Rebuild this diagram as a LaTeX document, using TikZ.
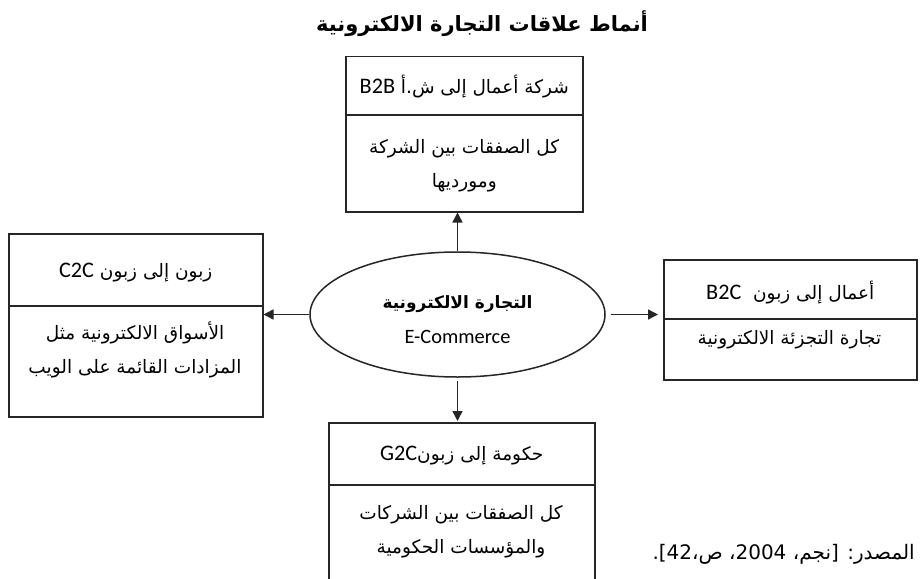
\documentclass[tikz,border=0pt]{standalone}
\usepackage{fontspec}
\setmainfont{Carlito}[Scale=1.2]
\newfontfamily\arfont[Script=Arabic]{DejaVu Sans}
\TeXXeTstate=1
\usetikzlibrary{shapes.geometric,arrows.meta}
% Arabic runs are set right to left; Latin codes inside them left to right
\newcommand\artext[1]{{\arfont\beginR #1\endR}}
\newcommand\lattext[1]{\beginL{\rmfamily #1}\endL}

\begin{document}
\begin{tikzpicture}[x=1pt,y=-1pt,
  cell/.style={draw=black!85, line width=1.5pt, anchor=north west, inner sep=0pt},
  txt/.style={inner sep=0pt, align=center, font=\fontsize{18.5}{34}\selectfont},
  arr/.style={draw=black!85, line width=1.4pt, -{Triangle[length=10pt,width=10pt]}},
]
\useasboundingbox (0,0) rectangle (920,578);
\fill[white] (0,0) rectangle (920,578);

\begin{scope}
\clip (0,0) rectangle (920,578);

% heading
\node[inner sep=0pt, font=\fontsize{21}{24}\selectfont\bfseries] (title) at (482,24)
  {\artext{أنماط علاقات التجارة الالكترونية}};

% business to business (top)
\node[cell, minimum width=237pt, minimum height=58pt] (b2bh) at (345,56) {};
\node[cell, minimum width=237pt, minimum height=97pt] (b2bb) at (345,114) {};
\node[txt] (b2bht) at ([yshift=-1pt]b2bh.center) {\artext{شركة أعمال إلى ش.أ \lattext{B2B}}};
\node[txt] (b2bbt) at ([yshift=-2pt]b2bb.center)
  {\artext{كل الصفقات بين الشركة}\\\artext{ومورديها}};

% consumer to consumer (left)
\node[cell, minimum width=254pt, minimum height=72pt] (c2ch) at (8,233) {};
\node[cell, minimum width=254pt, minimum height=111pt] (c2cb) at (8,305) {};
\node[txt] (c2cht) at ([yshift=-3pt]c2ch.center) {\artext{زبون إلى زبون \lattext{C2C}}};
\node[txt] (c2cbt) at (135,350)
  {\artext{الأسواق الالكترونية مثل}\\\artext{المزادات القائمة على الويب}};

% business to consumer (right)
\node[cell, minimum width=253pt, minimum height=59pt] (b2ch) at (663,259) {};
\node[cell, minimum width=253pt, minimum height=61pt] (b2cb) at (663,318) {};
\node[txt] (b2cht) at ([yshift=-3pt]b2ch.center) {\artext{أعمال إلى زبون \ \lattext{B2C}}};
\node[txt] (b2cbt) at (789.5,340) {\artext{تجارة التجزئة الالكترونية}};

% government to consumer (bottom)
\node[cell, minimum width=266pt, minimum height=62pt] (g2ch) at (328,422) {};
\node[cell, minimum width=266pt, minimum height=130pt] (g2cb) at (328,484) {};
\node[txt] (g2cht) at ([yshift=-2pt]g2ch.center) {\artext{حكومة إلى زبون\lattext{G2C}}};
\node[txt] (g2cbt) at (461,532)
  {\artext{كل الصفقات بين الشركات}\\\artext{والمؤسسات الحكومية}};

% centre
\node[draw=black!85, line width=1.5pt, ellipse, inner sep=0pt,
      minimum width=295pt, minimum height=125pt] (ec) at (457.5,314.5) {};
\node[txt, font=\fontsize{17}{35}\selectfont] (ect) at (457.5,320)
  {{\bfseries\artext{التجارة الالكترونية}}\\E-Commerce};

% links from the centre to the four kinds
\draw[arr] (ec.north) -- (ec.north |- b2bb.south);
\draw[arr] (ec.west) -- (ec.west -| c2cb.east);
\draw[arr, shorten <=5pt, shorten >=5pt] (ec.east) -- (ec.east -| b2cb.west);
\draw[arr, shorten <=3pt, shorten >=1pt] (ec.south) -- (ec.south |- g2ch.north);

% reference line
\node[inner sep=0pt, anchor=east, font=\fontsize{20}{22}\selectfont] (src) at (915,554)
  {\artext{المصدر: [نجم، 2004، ص،42].}};
\end{scope}
\end{tikzpicture}
\end{document}
